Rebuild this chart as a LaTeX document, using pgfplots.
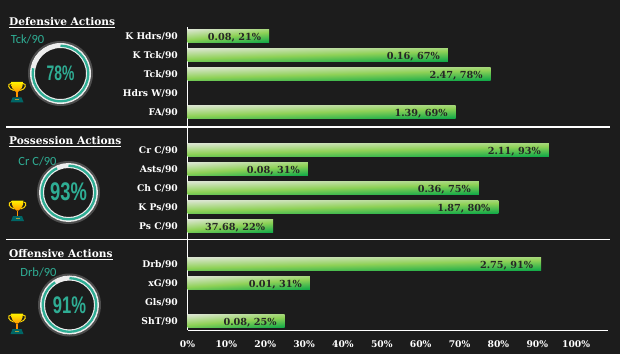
\documentclass[border=0pt]{standalone}
\usepackage{fontspec}
\usepackage{graphicx}
\usepackage{pgfplots}
\pgfplotsset{compat=1.18}
\setmainfont{DejaVu Serif}
\newfontfamily\numfont{Liberation Sans}
\newfontfamily\labfont{Carlito}
\definecolor{bg}{HTML}{1C1C1C}
\definecolor{teal1}{HTML}{2FAD94}
\pgfdeclarefunctionalshading{bargrad}{\pgfpoint{-50bp}{-50bp}}{\pgfpoint{50bp}{50bp}}{}{
 25 add 50 div exch 25 add 50 div exch
 1 exch sub 0.62 mul exch 0.38 mul add
 dup 0 lt {pop 0} if dup 1 gt {pop 1} if
 dup 0.5 lt
 { 2 mul dup 1 exch sub exch
   2 copy 0.56 mul exch 0.86 mul add 3 1 roll
   2 copy 0.82 mul exch 0.90 mul add 3 1 roll
   0.34 mul exch 0.82 mul add }
 { 0.5 sub 2 mul dup 1 exch sub exch
   2 copy 0.05 mul exch 0.56 mul add 3 1 roll
   2 copy 0.66 mul exch 0.82 mul add 3 1 roll
   0.28 mul exch 0.34 mul add }
 ifelse
}
\newcommand\ring[4]{%
 \begin{scope}[shift={(#1pt,#2pt)}]
  \draw[gray!50,line width=2pt,opacity=.3] (0,0) circle (#3pt+1pt);
  \draw[white!93!black,line width=5pt] (0,0) circle (#3pt-2.5pt);
  \draw[teal1,line width=2.3pt] (90:#3pt-2.7pt) arc[start angle=90,delta angle=-#4*3.6,radius=#3pt-2.7pt];
 \end{scope}}
\newcommand\trophy[2]{%
 \begin{scope}[shift={(#1pt,#2pt)}]
  \draw[yellow!75!orange,line width=1pt] (-6,9) .. controls (-10,9) and (-9,3) .. (-3,2);
  \draw[yellow!75!orange,line width=1pt] (6,9) .. controls (10,9) and (9,3) .. (3,2);
  \fill[top color=yellow!90!orange,bottom color=orange!80!yellow] (-6,10.5) -- (6,10.5) .. controls (6,4) and (3,2) .. (1,0.5) -- (-1,0.5) .. controls (-3,2) and (-6,4) .. cycle;
  \fill[orange!85!yellow] (-0.9,0.5) rectangle (0.9,-5);
  \fill[teal!80!black] (-4.5,-5) -- (4.5,-5) -- (6.5,-10) -- (-6.5,-10) -- cycle;
  \fill[yellow!60!black] (-2,-7) rectangle (2,-8);
 \end{scope}}
\pgfplotsset{mybar/.style={xbar,bar width=13pt,bar shift=0pt,draw=none,shading=bargrad,forget plot,
 nodes near coords={\pgfplotspointmeta},point meta=explicit symbolic,
 nodes near coords style={anchor=east,text=black!85,font=\fontsize{9.7}{10}\selectfont\bfseries,xshift=-4.5pt,yshift=-1.5pt}}}
\begin{document}
\begin{tikzpicture}[x=1pt,y=1pt]
\fill[bg] (0,0) rectangle (620,354);
\draw[white,line width=1.6pt] (6,227) -- (610,227);
\draw[white,line width=1.6pt] (6,114.5) -- (610,114.5);
\begin{axis}[at={(187.5pt,24pt)},anchor=south west,scale only axis,
 width=420.5pt,height=303pt,
 xmin=0,xmax=108.2,ymin=-0.47,ymax=15.47,y dir=reverse,
 axis lines=left,axis line style={white,line width=0.8pt,-},
 xtick={0,10,...,100},xticklabel={\pgfmathprintnumber{\tick}\%},
 ytick={0,1,2,3,4,6,7,8,9,10,12,13,14,15},
 yticklabels={K Hdrs/90,K Tck/90,Tck/90,Hdrs W/90,FA/90,Cr C/90,Asts/90,Ch C/90,K Ps/90,Ps C/90,Drb/90,xG/90,Gls/90,ShT/90},
 tick style={draw=none},
 ticklabel style={white,font=\fontsize{9.2}{10}\selectfont\bfseries},
 /pgf/number format/assume math mode=true,
 yticklabel style={xshift=-4pt,yshift=-0.5pt},
 xticklabel style={yshift=-4.5pt},
 clip=false]
\addplot[mybar] coordinates {(21,0) [{0.08, 21\%}]};
\addplot[mybar] coordinates {(67,1) [{0.16, 67\%}]};
\addplot[mybar] coordinates {(78,2) [{2.47, 78\%}]};
\addplot[mybar] coordinates {(69,4) [{1.39, 69\%}]};
\addplot[mybar] coordinates {(93,6) [{2.11, 93\%}]};
\addplot[mybar] coordinates {(31,7) [{0.08, 31\%}]};
\addplot[mybar] coordinates {(75,8) [{0.36, 75\%}]};
\addplot[mybar] coordinates {(80,9) [{1.87, 80\%}]};
\addplot[mybar] coordinates {(22,10) [{37.68, 22\%}]};
\addplot[mybar] coordinates {(91,12) [{2.75, 91\%}]};
\addplot[mybar] coordinates {(31.5,13) [{0.01, 31\%}]};
\addplot[mybar] coordinates {(25,15) [{0.08, 25\%}]};
\end{axis}
% headings
\node[anchor=west,white,font=\fontsize{10.6}{10}\selectfont\bfseries,inner sep=0] at (9,331) {\underline{Defensive Actions}};
\node[anchor=west,white,font=\fontsize{10.6}{10}\selectfont\bfseries,inner sep=0] at (9,212) {\underline{Possession Actions}};
\node[anchor=west,white,font=\fontsize{10.6}{10}\selectfont\bfseries,inner sep=0] at (9,99.5) {\underline{Offensive Actions}};
\node[teal1,font=\labfont\fontsize{12.5}{12}\selectfont,inner sep=0] at (27.5,315) {Tck/90};
\node[teal1,font=\labfont\fontsize{12.5}{12}\selectfont,inner sep=0] at (37.5,193) {Cr C/90};
\node[teal1,font=\labfont\fontsize{12.5}{12}\selectfont,inner sep=0] at (38.5,82) {Drb/90};
\ring{60.5}{280.5}{30.5}{78}
\ring{68.5}{161.5}{29.5}{93}
\ring{69.5}{49}{29.5}{91}
\node[teal1,font=\numfont\bfseries\fontsize{21}{22}\selectfont,inner sep=0] at (60.5,281) {\scalebox{.66}[1]{78\%}};
\node[teal1,font=\numfont\bfseries\fontsize{25.5}{24}\selectfont,inner sep=0] at (68.5,162) {\scalebox{.72}[1]{93\%}};
\node[teal1,font=\numfont\bfseries\fontsize{24}{24}\selectfont,inner sep=0] at (69.5,49) {\scalebox{.69}[1]{91\%}};
\trophy{17}{261.5}
\trophy{17.5}{143}
\trophy{17}{30}
\end{tikzpicture}
\end{document}
